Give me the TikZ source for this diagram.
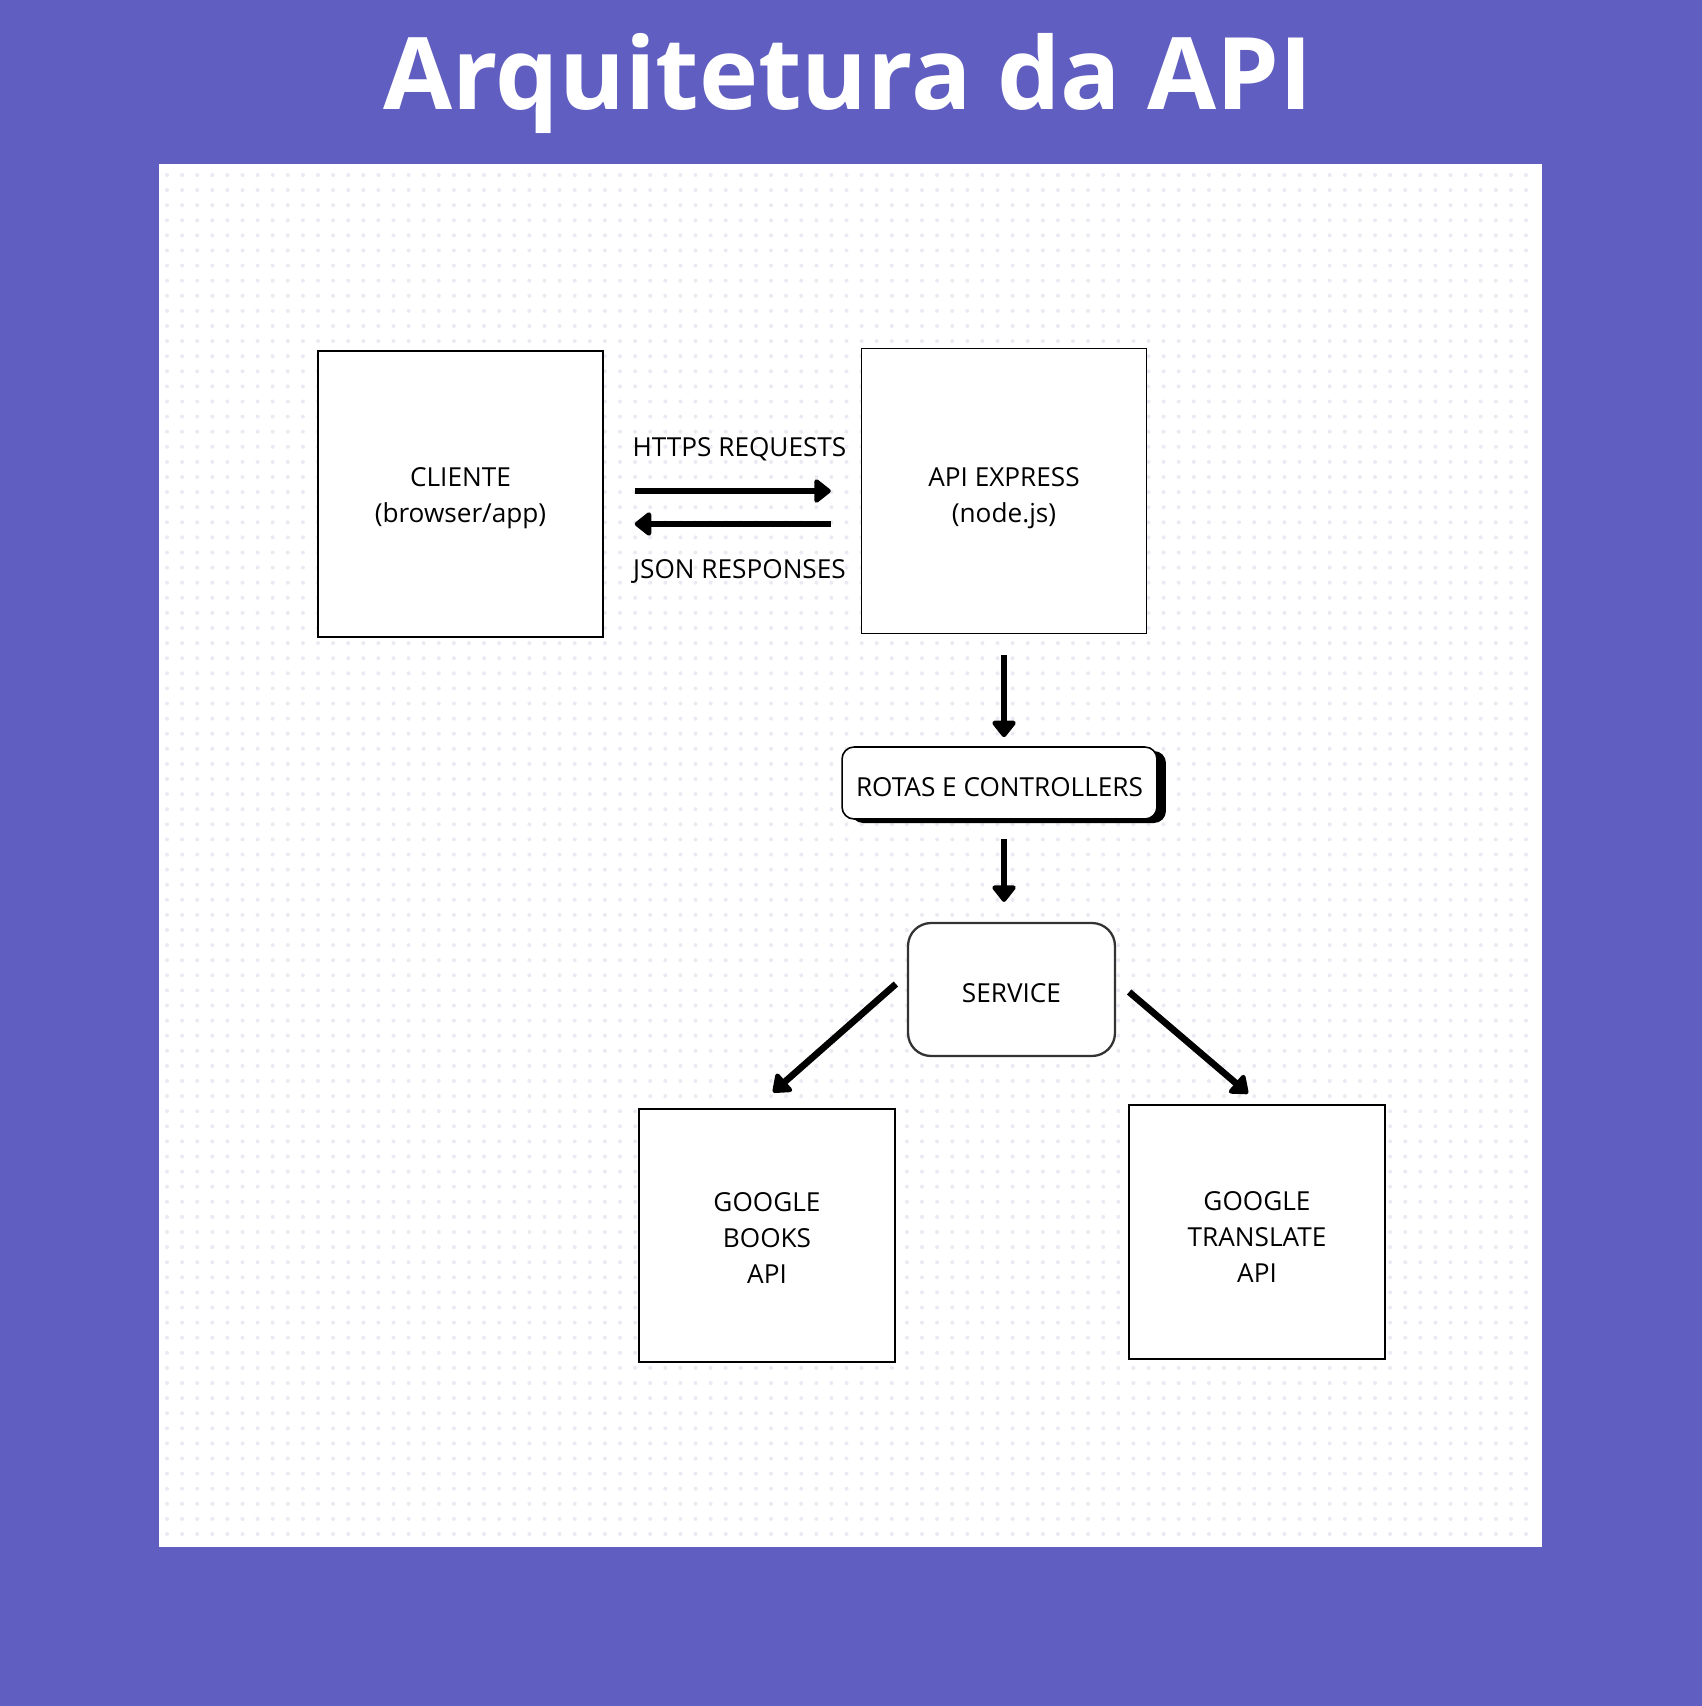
\documentclass[tikz,border=0pt]{standalone}
\usepackage{fontspec}
\setmainfont{Open Sans}
\usetikzlibrary{arrows.meta,shadows}
\definecolor{bgpurple}{RGB}{96,94,192}
\definecolor{dotgray}{RGB}{234,235,242}

\begin{document}
\begin{tikzpicture}[x=0.02cm, y=-0.02cm,
	box/.style={draw, line width=0.9pt, fill=white, align=center, minimum width=5.7cm, minimum height=5.72cm,
		font=\fontsize{14.9}{20.5}\selectfont, execute at begin node={\rule{0pt}{#1}}},
	box/.default=15pt,
	lbl/.style={anchor=base, font=\fontsize{14.9}{20.5}\selectfont},
	arr/.style={line width=3.8pt, -{Triangle[round, length=0.36cm, width=0.54cm]}}]
	\fill[bgpurple] (0,0) rectangle (1702,1706);
	\fill[white] (159,164) rectangle (1542,1547);
	\foreach \i in {0,...,90}
	{
		\fill[dotgray] \foreach \j in {0,...,90} {(167+15.1*\i,175+15.1*\j) circle [radius=0.04cm]};
	}
	\node[anchor=base, text=white, font=\fontsize{57}{68}\selectfont\bfseries] (title) at (848,110) {Arquitetura da API};
	\node[box=36pt] (cliente) at (460.5,494) {CLIENTE\\(browser/app)};
	\node[box=40pt, minimum height=5.7cm] (api) at (1004,491) {API EXPRESS\\(node.js)};
	\node[box, minimum width=6.3cm, minimum height=1.44cm, rounded corners=0.24cm,
		drop shadow={shadow xshift=0.18cm, shadow yshift=-0.08cm, fill=black, opacity=1}] (rotas) at (999.5,783) {ROTAS E CONTROLLERS};
	\node[box, draw=black!80, line width=1.3pt, minimum width=4.14cm, minimum height=2.66cm, rounded corners=0.46cm] (service) at (1011.5,989.5) {SERVICE};
	\node[box=55pt, minimum width=5.12cm, minimum height=5.06cm] (books) at (767,1235.5) {GOOGLE\\BOOKS\\API};
	\node[box=58pt, minimum width=5.13cm, minimum height=5.07cm] (translate) at (1257,1232) {GOOGLE\\TRANSLATE\\API};
	\node[lbl] (req) at (739.5,456) {HTTPS REQUESTS};
	\node[lbl] (resp) at (739.5,578) {JSON RESPONSES};
	\coordinate (back) at ([yshift=-0.66cm]api.west);
	\coordinate (sw) at ([xshift=-0.22cm, yshift=0.11cm]service.west);
	\coordinate (se) at ([xshift=0.26cm, yshift=-0.05cm]service.east);
	\coordinate (bn) at ([xshift=0.12cm, yshift=0.32cm]books.north);
	\coordinate (tn) at ([xshift=-0.18cm, yshift=0.22cm]translate.north);
	\draw[arr, shorten <=0.62cm, shorten >=0.6cm] (cliente.east |- api.west) -- (api.west);
	\draw[arr, shorten <=0.6cm, shorten >=0.62cm] (back) -- (back -| cliente.east);
	\draw[arr, shorten <=0.42cm, shorten >=0.18cm] (api.south) -- (api.south |- rotas.north);
	\draw[arr, shorten <=0.38cm, shorten >=0.4cm] (api.south |- rotas.south) -- (api.south |- service.north);
	\draw[arr] (sw) -- (bn);
	\draw[arr] (se) -- (tn);
\end{tikzpicture}
\end{document}
